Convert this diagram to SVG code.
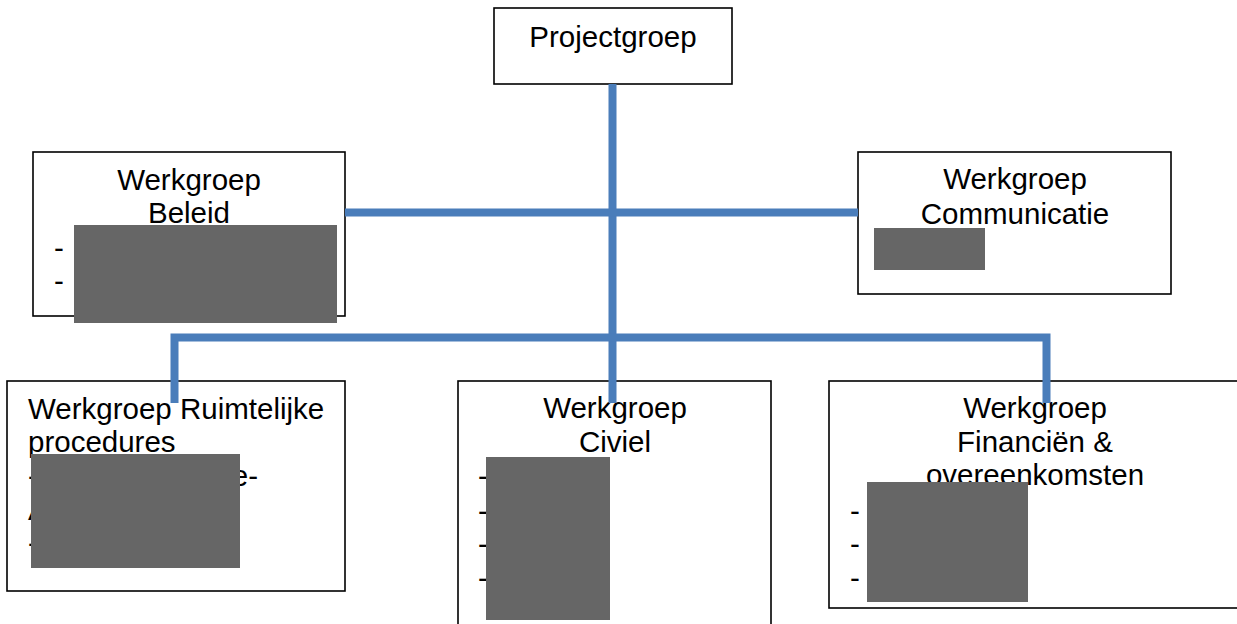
<svg xmlns="http://www.w3.org/2000/svg" width="1237" height="624" viewBox="0 0 1237 624">
<style>
.box{fill:#fff;stroke:#000;stroke-width:1.6}
.t{font-family:"Liberation Sans",Arial,sans-serif;font-size:29.5px;fill:#000}
.c{text-anchor:middle}
.red{fill:#666666}
.conn{fill:none;stroke:#4A7DBA;stroke-width:8;stroke-linecap:butt;stroke-linejoin:miter}
</style>
<rect width="1237" height="624" fill="#fff"/>
<g id="projectgroep">
<rect class="box" x="494" y="8" width="238" height="76"/>
<text class="t c" x="613" y="47">Projectgroep</text>
</g>
<g id="beleid">
<rect class="box" x="33" y="152" width="312" height="164"/>
<text class="t c" x="189" y="190">Werkgroep</text>
<text class="t c" x="189" y="223">Beleid</text>
<text class="t" x="54" y="258">-</text>
<text class="t" x="54" y="291">-</text>
<rect class="red" x="74" y="225" width="263" height="98"/>
</g>
<g id="communicatie">
<rect class="box" x="858" y="152" width="313" height="142"/>
<text class="t c" x="1015" y="189">Werkgroep</text>
<text class="t c" x="1015" y="224">Communicatie</text>
<rect class="red" x="874" y="228" width="111" height="42"/>
</g>
<g id="ruimtelijke">
<rect class="box" x="7" y="381" width="338" height="210"/>
<text class="t" x="28" y="419">Werkgroep Ruimtelijke</text>
<text class="t" x="28" y="452">procedures</text>
<text class="t" x="28" y="486">-</text>
<text class="t" x="258" y="486" text-anchor="end">e-</text>
<text class="t" x="28" y="520">A</text>
<text class="t" x="28" y="553">-</text>
<rect class="red" x="31" y="454" width="209" height="114"/>
</g>
<g id="civiel">
<rect class="box" x="458" y="381" width="313" height="260"/>
<text class="t c" x="615" y="418">Werkgroep</text>
<text class="t c" x="615" y="452">Civiel</text>
<text class="t" x="478" y="486">-</text>
<text class="t" x="478" y="521">-</text>
<text class="t" x="478" y="554">-</text>
<text class="t" x="478" y="588">-</text>
<rect class="red" x="486" y="457" width="124" height="163"/>
</g>
<g id="financien">
<rect class="box" x="829" y="381" width="420" height="227"/>
<text class="t c" x="1035" y="418">Werkgroep</text>
<text class="t c" x="1035" y="452">Financiën &amp;</text>
<text class="t c" x="1035" y="485">overeenkomsten</text>
<text class="t" x="850" y="521">-</text>
<text class="t" x="850" y="554">-</text>
<text class="t" x="850" y="588">-</text>
<rect class="red" x="867" y="482" width="161" height="120"/>
</g>
<g id="connectors">
<path class="conn" d="M612.5 84 V403"/>
<path class="conn" d="M345 212.5 H858"/>
<path class="conn" d="M174.5 403 V337.5 H1046.5 V403"/>
</g>
</svg>
